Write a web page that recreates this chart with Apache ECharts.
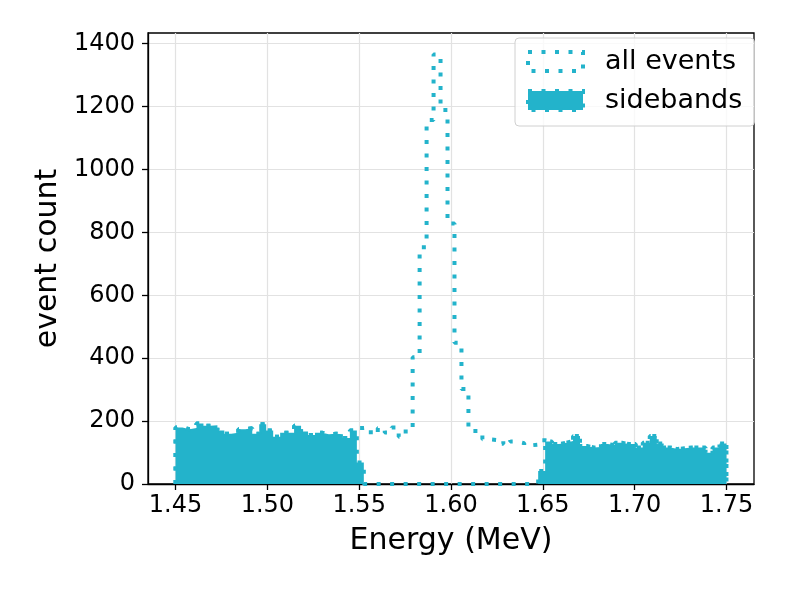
<!DOCTYPE html>
<html>
<head>
<meta charset="utf-8">
<script src="https://cdn.jsdelivr.net/npm/echarts@6/dist/echarts.min.js"></script>
<style>
  html, body { margin: 0; padding: 0; background: #fff; }
  #chart { width: 789px; height: 592px; }
</style>
</head>
<body>
<div id="chart"></div>
<script>
// histogram bins (same binning for both histograms)
const binLo = 1.45;
const binHi = 1.75;
const nBins = 79;

// counts per bin, all events
const allEvents = [
  180, 174, 178, 192, 185, 187, 170, 160, 163, 174,
  177, 160, 190, 170, 150, 163, 163, 185, 167, 156,
  163, 158, 160, 158, 146, 170, 178, 180, 158, 178,
  164, 180, 150, 175, 403, 753, 1157, 1366, 1189, 828,
  449, 302, 182, 155, 142, 140, 128, 142, 135, 130,
  123, 125, 139, 135, 127, 131, 137, 153, 121, 116,
  118, 127, 124, 131, 127, 127, 116, 131, 153, 129,
  116, 111, 114, 116, 116, 116, 99, 116, 129
];

// counts per bin, sideband events only
const sidebands = [
  180, 174, 178, 192, 185, 187, 170, 160, 163, 174,
  177, 160, 190, 170, 150, 163, 163, 185, 167, 156,
  163, 158, 160, 158, 146, 170, 68, 0, 0, 0,
  0, 0, 0, 0, 0, 0, 0, 0, 0, 0,
  0, 0, 0, 0, 0, 0, 0, 0, 0, 0,
  0, 0, 41, 135, 127, 131, 137, 153, 121, 116,
  118, 127, 124, 131, 127, 127, 116, 131, 153, 129,
  116, 111, 114, 116, 116, 116, 99, 116, 129
];

const xTicks = [1.45, 1.50, 1.55, 1.60, 1.65, 1.70, 1.75];
const yTicks = [0, 200, 400, 600, 800, 1000, 1200, 1400];

const cyan = '#23b3cb';
const font = 'DejaVu Sans';
const dots = [4, 9.5];

// step outline points: start at 0, one point per bin left edge, end at 0
const stepPoints = (counts) => {
  const w = (binHi - binLo) / nBins;
  const pts = [[binLo, 0]];
  counts.forEach((c, i) => pts.push([binLo + i * w, c]));
  pts.push([binHi, 0]);
  return pts;
};

const chart = echarts.init(document.getElementById('chart'));

chart.setOption({
  animation: false,
  textStyle: { fontFamily: font },
  grid: {
    left: 148, right: 35, top: 33, bottom: 108,
    show: true, borderColor: '#000', borderWidth: 1.3
  },
  legend: {
    left: 515, top: 38,
    orient: 'vertical',
    padding: [10, 12, 12, 11],
    itemWidth: 55, itemHeight: 19, itemGap: 12,
    backgroundColor: 'rgba(255,255,255,0.8)',
    borderColor: '#d0d0d0', borderWidth: 1, borderRadius: 4,
    textStyle: { fontSize: 27, color: '#000', fontFamily: font, padding: [0, 0, 0, 17] },
    data: [
      {
        name: 'all events', icon: 'rect',
        itemStyle: { color: 'rgba(0,0,0,0)', borderColor: cyan, borderWidth: 4, borderType: dots }
      },
      {
        name: 'sidebands', icon: 'rect',
        itemStyle: { color: cyan, borderColor: cyan, borderWidth: 4, borderType: dots }
      }
    ]
  },
  xAxis: {
    type: 'value',
    min: 1.435, max: 1.765,
    name: 'Energy (MeV)',
    nameLocation: 'middle',
    nameGap: 42,
    nameTextStyle: { fontSize: 30, color: '#000', fontFamily: font },
    axisLine: { show: true, onZero: false, lineStyle: { color: '#000', width: 1.3 } },
    axisTick: { show: true, customValues: xTicks, length: 6, lineStyle: { color: '#000', width: 1.3 } },
    axisLabel: {
      customValues: xTicks, fontSize: 24, color: '#000', margin: 10,
      formatter: (v) => v.toFixed(2)
    },
    splitLine: { show: true, lineStyle: { color: '#e2e2e2', width: 1.2 } }
  },
  yAxis: {
    type: 'value',
    min: 0, max: 1434, interval: 200,
    name: 'event count',
    nameLocation: 'middle',
    nameGap: 73,
    nameTextStyle: { fontSize: 30, color: '#000', fontFamily: font },
    axisLine: { show: true, lineStyle: { color: '#000', width: 1.3 } },
    axisTick: { show: true, customValues: yTicks, length: 6, lineStyle: { color: '#000', width: 1.3 } },
    axisLabel: {
      customValues: yTicks, fontSize: 24, color: '#000', margin: 13,
      formatter: (v) => String(v)
    },
    splitLine: { show: true, lineStyle: { color: '#e2e2e2', width: 1.2 } }
  },
  series: [
    {
      name: 'all events',
      type: 'line',
      step: 'end',
      symbol: 'none',
      color: cyan,
      lineStyle: { color: cyan, width: 4, type: dots, cap: 'butt' },
      data: stepPoints(allEvents),
      z: 2
    },
    {
      name: 'sidebands',
      type: 'line',
      step: 'end',
      symbol: 'none',
      color: cyan,
      lineStyle: { color: cyan, width: 4, type: dots, cap: 'butt' },
      areaStyle: { color: cyan, opacity: 1 },
      data: stepPoints(sidebands),
      z: 3
    }
  ]
});
</script>
</body>
</html>
